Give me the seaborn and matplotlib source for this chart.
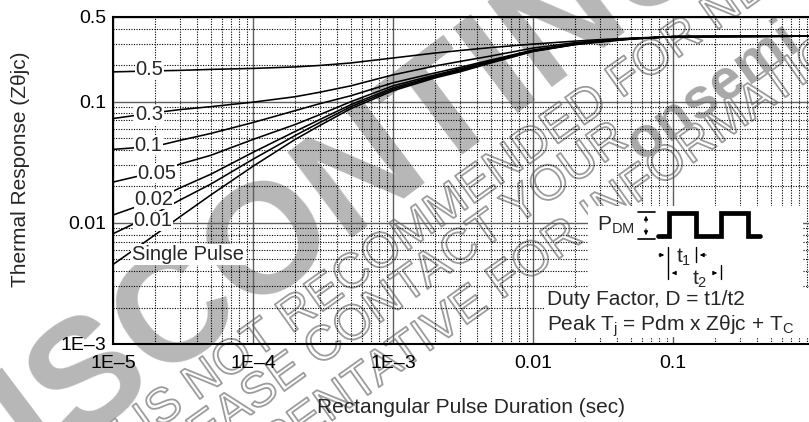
import math
import matplotlib
matplotlib.use("Agg")
import matplotlib.pyplot as plt
from matplotlib.patches import Rectangle, FancyArrowPatch
from matplotlib.lines import Line2D
import matplotlib.patheffects as pe
import pandas as pd
import seaborn as sns

# ---------------------------
# 1. datos
# ---------------------------
pulse_sec = [1e-5, 2e-5, 3e-5, 5e-5, 1e-4, 2e-4, 3e-4, 5e-4, 1e-3,
             2e-3, 3e-3, 5e-3, 1e-2, 2e-2, 3e-2, 5e-2, 1e-1, 1.0]

z_d050 = [0.1762, 0.1796, 0.1813, 0.1847, 0.1882, 0.1936, 0.1991, 0.2088, 0.2294,
          0.2522, 0.2643, 0.2797, 0.2989, 0.3162, 0.3253, 0.3346, 0.3442, 0.3475]
z_d030 = [0.0726, 0.0812, 0.0860, 0.0910, 0.0991, 0.1099, 0.1197, 0.1352, 0.1665,
          0.1973, 0.2147, 0.2382, 0.2771, 0.3074, 0.3192, 0.3315, 0.3442, 0.3475]
z_d010 = [0.0404, 0.0428, 0.0479, 0.0547, 0.0673, 0.0844, 0.0963, 0.1120, 0.1432,
          0.1729, 0.1918, 0.2209, 0.2668, 0.3017, 0.3162, 0.3315, 0.3442, 0.3475]
z_d005 = [0.0217, 0.0262, 0.0305, 0.0361, 0.0488, 0.0648, 0.0782, 0.1000, 0.1352,
          0.1665, 0.1865, 0.2168, 0.2643, 0.2989, 0.3162, 0.3315, 0.3442, 0.3475]
z_d002 = [0.0116, 0.0154, 0.0194, 0.0252, 0.0382, 0.0568, 0.0712, 0.0945, 0.1302,
          0.1633, 0.1830, 0.2147, 0.2618, 0.2989, 0.3133, 0.3315, 0.3442, 0.3475]
z_d001 = [0.00813, 0.0119, 0.0154, 0.0209, 0.0335, 0.0526, 0.0673, 0.0910, 0.1266,
          0.1603, 0.1796, 0.2127, 0.2618, 0.2961, 0.3133, 0.3284, 0.3442, 0.3475]
z_single = [0.00453, 0.00797, 0.0112, 0.0170, 0.0293, 0.0488, 0.0636, 0.0876, 0.1231,
            0.1573, 0.1762, 0.2088, 0.2594, 0.2961, 0.3103, 0.3284, 0.3442, 0.3475]

curve_names = ["0.5", "0.3", "0.1", "0.05", "0.02", "0.01", "Single Pulse"]
curve_values = [z_d050, z_d030, z_d010, z_d005, z_d002, z_d001, z_single]

x_ticks = [1e-5, 1e-4, 1e-3, 1e-2, 1e-1]
x_ticklabels = ["1E\u20135", "1E\u20134", "1E\u20133", "0.01", "0.1"]
y_ticks = [1e-3, 1e-2, 1e-1, 0.5]
y_ticklabels = ["1E\u20133", "0.01", "0.1", "0.5"]

# donde va cada rotulo de curva (x, y en unidades de datos)
label_pos = [(1.81e-5, 0.183), (1.81e-5, 0.0782), (1.78e-5, 0.0436), (2.06e-5, 0.0257),
             (1.96e-5, 0.0157), (1.93e-5, 0.0104), (3.43e-5, 0.00548)]

rows = []
for name, vals in zip(curve_names, curve_values):
    for t, z in zip(pulse_sec, vals):
        rows.append({"t": t, "z": z, "duty": name})
df = pd.DataFrame(rows)

# ---------------------------
# 2. estilo y figura
# ---------------------------
sns.set_style("white")
plt.rcParams["font.family"] = ["Liberation Sans", "DejaVu Sans"]
plt.rcParams["mathtext.fontset"] = "custom"
plt.rcParams["mathtext.rm"] = "Liberation Sans"
plt.rcParams["mathtext.it"] = "Liberation Sans"

W, H = 809, 422
fig = plt.figure(figsize=(W / 100, H / 100), dpi=100)
fig.patch.set_facecolor("white")


def fx(px):
    return px / W


def fy(py):
    return 1 - py / H


ax = fig.add_axes([fx(113), fy(344), (W - 113) / W, (344 - 17) / H])
ax.patch.set_alpha(0)

# marca de agua (debajo de todo)
wm_gray = "#b7b7b7"
fig.text(fx(422), fy(177), "DISCONTINUED", rotation=37, rotation_mode="anchor",
         ha="center", va="baseline", fontsize=112, fontweight="bold", color=wm_gray, zorder=-5)
outline = [pe.Stroke(linewidth=1.3, foreground="#9c9c9c")]
wm_lines = [("THIS DEVICE IS NOT", "RECOMMENDED FOR NEW DESIGN.", (291, 334)),
            ("PLEASE", "CONTACT YOUR", (318, 367)),
            ("REPRESENTATIVE", "FOR INFORMATION", (501, 300))]
ang = 35.5
ca, sa = math.cos(math.radians(ang)), math.sin(math.radians(ang))
for pre, post, (x0, y0) in wm_lines:
    fig.text(fx(x0), fy(y0), post, rotation=ang, rotation_mode="anchor", ha="left",
             va="baseline", fontsize=35, color="none", path_effects=outline, zorder=-4)
    sp = 13
    fig.text(fx(x0 - sp * ca), fy(y0 + sp * sa), pre, rotation=ang, rotation_mode="anchor",
             ha="right", va="baseline", fontsize=35, color="none", path_effects=outline, zorder=-4)
fig.text(fx(713), fy(91), "onsemi", rotation=ang, rotation_mode="anchor", ha="center",
         va="center", fontsize=41, fontweight="bold", color="#a8a8a8", zorder=-4)

# ---------------------------
# 3. curvas
# ---------------------------
sns.lineplot(data=df, x="t", y="z", units="duty", estimator=None, color="black",
             linewidth=1.15, ax=ax, legend=False, zorder=3)

ax.set_xscale("log")
ax.set_yscale("log")
ax.set_xlim(1e-5, 10 ** (-0.029))
ax.set_ylim(1e-3, 0.5)

ax.grid(which="major", color="#5e5e5e", linewidth=1.0, linestyle="-")
ax.grid(which="minor", color="black", linewidth=0.8, linestyle=(0, (1, 1.3)))
ax.set_xticks(x_ticks)
ax.set_xticklabels(x_ticklabels)
ax.set_yticks(y_ticks)
ax.set_yticklabels(y_ticklabels)
ax.tick_params(which="both", length=0, labelsize=14, colors="black")
ax.tick_params(axis="x", pad=8)
ax.tick_params(axis="y", pad=5)
ax.set_xlabel("")
ax.set_ylabel("")
for s in ["left", "top", "bottom"]:
    ax.spines[s].set_linewidth(1.5)
    ax.spines[s].set_color("black")
ax.spines["right"].set_visible(False)

for name, (lx, ly) in zip(curve_names, label_pos):
    ax.text(lx, ly, name, ha="center", va="center", fontsize=14.5, zorder=4,
            bbox=dict(facecolor="white", edgecolor="none", pad=0.4))

fig.text(fx(471), fy(413), "Rectangular Pulse Duration (sec)", ha="center", va="baseline", fontsize=15)
fig.text(fx(21), fy(169), "Thermal Response (Z\u03b8jc)", ha="center", va="center",
         rotation=90, fontsize=15)

# ---------------------------
# 4. recuadro del pulso
# ---------------------------
fig.add_artist(Rectangle((fx(588), fy(290)), fx(803) - fx(588), fy(206) - fy(290),
                         transform=fig.transFigure, facecolor="white", edgecolor="none", zorder=1))
fig.add_artist(Rectangle((fx(544), fy(337)), fx(809) - fx(544), fy(288) - fy(337),
                         transform=fig.transFigure, facecolor="white", edgecolor="none", zorder=1))

wave_x = [658, 669, 669, 696, 696, 721, 721, 748, 748, 760]
wave_y = [236, 236, 213, 213, 236, 236, 213, 213, 236, 236]
fig.add_artist(Line2D([fx(v) for v in wave_x], [fy(v) for v in wave_y], transform=fig.transFigure,
                      color="black", linewidth=3.4, solid_joinstyle="miter", zorder=2))


def seg(x0, y0, x1, y1, lw=1.0):
    fig.add_artist(Line2D([fx(x0), fx(x1)], [fy(y0), fy(y1)], transform=fig.transFigure,
                          color="black", linewidth=lw, zorder=2))


def arrow(x0, y0, x1, y1, style="-|>"):
    fig.add_artist(FancyArrowPatch((fx(x0), fy(y0)), (fx(x1), fy(y1)),
                                   transform=fig.transFigure, arrowstyle=style, mutation_scale=6,
                                   color="black", linewidth=0.7, zorder=2))


seg(638, 212, 655, 212, 1.2)
seg(638, 239, 655, 239, 1.2)
arrow(646, 225, 646, 213)
arrow(646, 226, 646, 238)
seg(668, 247, 668, 279)
seg(696, 247, 696, 262)
seg(721, 265, 721, 279)
arrow(656, 255, 667, 255)
arrow(709, 255, 697, 255)
arrow(677, 273, 669, 273)
arrow(711, 273, 720, 273)

fig.text(fx(597), fy(225), r"P$_{\mathrm{DM}}$", ha="left", va="center", fontsize=15, zorder=3)
fig.text(fx(684), fy(257), r"t$_{1}$", ha="center", va="center", fontsize=15, zorder=3)
fig.text(fx(700), fy(279), r"t$_{2}$", ha="center", va="center", fontsize=15, zorder=3)
fig.text(fx(547), fy(305), "Duty Factor, D = t1/t2", ha="left", va="baseline", fontsize=15, zorder=3)
fig.text(fx(547), fy(331), "Peak T$_{\\mathrm{j}}$ = Pdm x Z\u03b8jc + T$_{\\mathrm{C}}$", ha="left",
         va="baseline", fontsize=15, zorder=3)

fig.savefig("out.png", dpi=100)
